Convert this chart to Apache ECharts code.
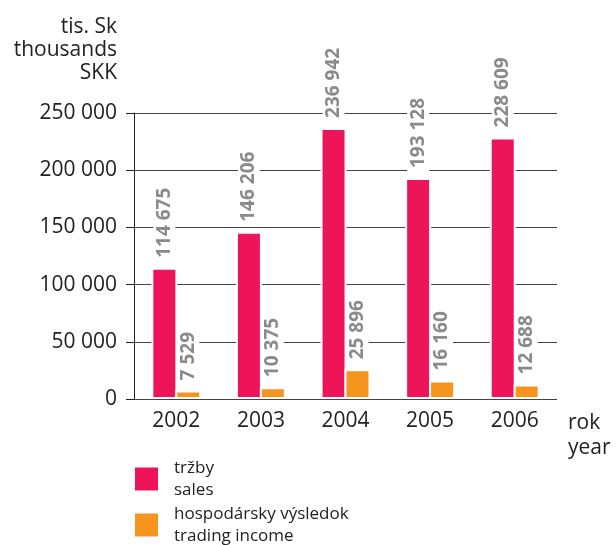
<!DOCTYPE html>
<html>
<head>
<meta charset="utf-8">
<script src="https://cdn.jsdelivr.net/npm/echarts@6/dist/echarts.min.js"></script>
<style>
   html, body { margin: 0; padding: 0; background: #fff; }
   #chart { width: 616px; height: 545px; }
</style>
</head>
<body>
<div id="chart"></div>
<script>

const years = ['2002', '2003', '2004', '2005', '2006'];
const sales = [114675, 146206, 236942, 193128, 228609];
const income = [7529, 10375, 25896, 16160, 12688];
const seriesNames = ['tržby\nsales', 'hospodársky výsledok\ntrading income'];
const colors = ['#ed1459', '#f7941d'];

const font = 'Open Sans';

// 250000 -> "250 000"
function spaced(v)
{
   return String(v).replace(/\B(?=(\d{3})+(?!\d))/g, ' ');
}

var chart = echarts.init(document.getElementById('chart'));

var barLabel =
{
   show: true,
   position: 'top',
   rotate: 90,
   align: 'left',
   verticalAlign: 'middle',
   distance: 6,
   color: '#8a8a8a',
   fontFamily: font,
   fontWeight: 'bold',
   fontSize: 19,
   lineHeight: 16,
   backgroundColor: '#fff',
   padding: [3, 4, 3, 4],
   formatter: (p) => spaced(p.value)
};

function makeSeries(i, values)
{
   return {
      type: 'bar',
      name: seriesNames[i],
      data: values,
      barWidth: 26,
      barGap: '-8%',
      // white outline keeps the grid lines off the bars
      itemStyle: { color: colors[i], borderColor: '#fff', borderWidth: 2 },
      label: barLabel,
      emphasis: { disabled: true }
   };
}

chart.setOption(
{
   animation: false,
   color: colors,
   grid: { left: 134, right: 59, top: 113, bottom: 146 },
   legend:
   {
      orient: 'vertical',
      left: 133,
      top: 457,
      height: 150,
      padding: 0,
      itemWidth: 25,
      itemHeight: 25,
      itemGap: 2,
      icon: 'rect',
      data: seriesNames,
      textStyle:
      {
         fontFamily: font,
         fontSize: 17,
         lineHeight: 22,
         color: '#222',
         padding: [0, 0, 0, 10]
      }
   },
   xAxis:
   {
      type: 'category',
      data: years,
      name: 'rok\nyear',
      nameLocation: 'end',
      nameGap: 11,
      nameTextStyle:
      {
         fontFamily: font, fontSize: 21, lineHeight: 25, color: '#222',
         align: 'left', verticalAlign: 'top', padding: [12, 0, 0, 0]
      },
      axisLine: { show: false },
      axisTick: { show: false },
      axisLabel: { fontFamily: font, fontSize: 21, color: '#222', margin: 12 }
   },
   yAxis:
   {
      type: 'value',
      min: 0,
      max: 250000,
      interval: 50000,
      name: 'tis. Sk\nthousands\nSKK',
      nameLocation: 'end',
      nameGap: 28,
      nameTextStyle:
      {
         fontFamily: font, fontSize: 21, lineHeight: 23, color: '#222',
         align: 'right', verticalAlign: 'bottom', padding: [0, 17, 0, 0]
      },
      axisLine: { show: true, lineStyle: { color: '#222', width: 1 } },
      axisTick: { show: true, length: 8, lineStyle: { color: '#222' } },
      axisLabel:
      {
         fontFamily: font, fontSize: 21, color: '#222', margin: 17,
         formatter: (v) => spaced(v)
      },
      splitLine: { show: true, lineStyle: { color: '#444', width: 1 } }
   },
   series: [ makeSeries(0, sales), makeSeries(1, income) ]
});

</script>
</body>
</html>
